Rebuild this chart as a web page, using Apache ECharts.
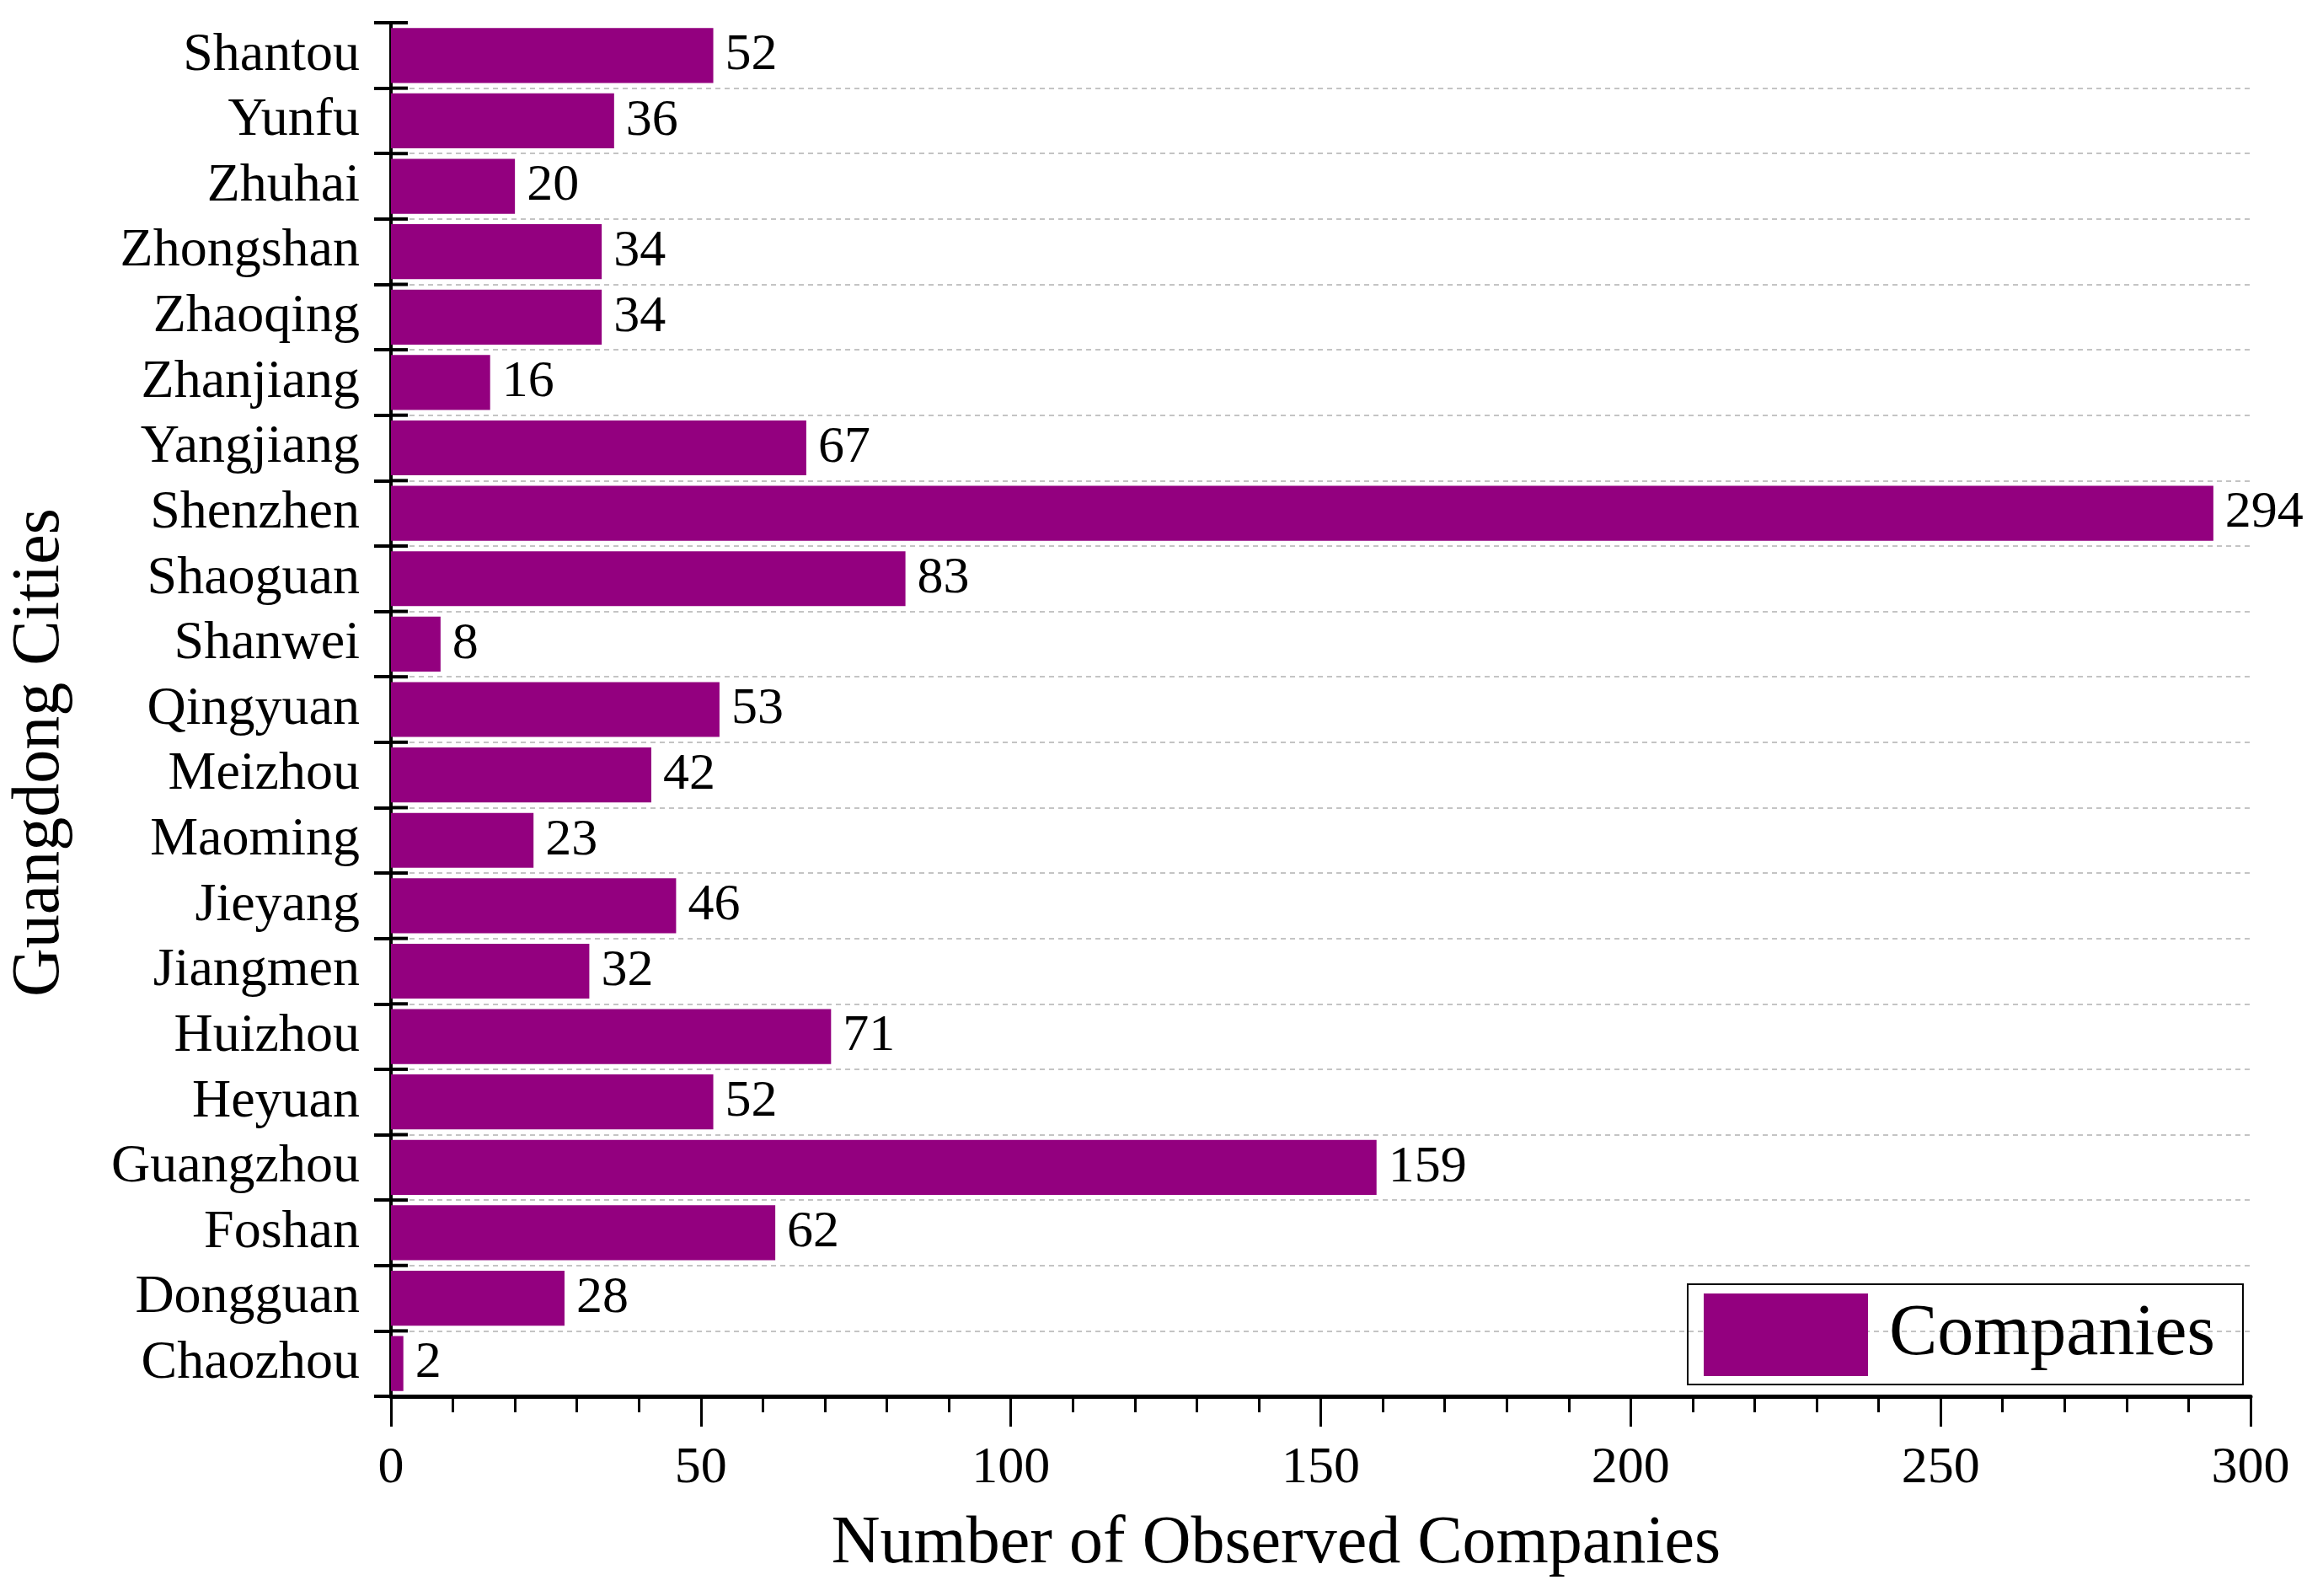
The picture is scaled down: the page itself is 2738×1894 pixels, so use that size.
<!DOCTYPE html>
<html>
<head>
<meta charset="utf-8">
<script src="https://cdn.jsdelivr.net/npm/echarts@6/dist/echarts.min.js"></script>
<style>
html,body{margin:0;padding:0;background:#fff;}
#chart{width:2738px;height:1894px;}
</style>
</head>
<body>
<div id="chart"></div>
<script>
const cities = ['Chaozhou','Dongguan','Foshan','Guangzhou','Heyuan','Huizhou','Jiangmen','Jieyang','Maoming','Meizhou','Qingyuan','Shanwei','Shaoguan','Shenzhen','Yangjiang','Zhanjiang','Zhaoqing','Zhongshan','Zhuhai','Yunfu','Shantou'];
const companies = [2,28,62,159,52,71,32,46,23,42,53,8,83,294,67,16,34,34,20,36,52];
const seriesName = 'Companies';
const xAxisTitle = 'Number of Observed Companies';
const yAxisTitle = 'Guangdong Cities';

const FONT = 'Liberation Serif';
const tickLen = 20;
const chart = echarts.init(document.getElementById('chart'), null, {renderer:'canvas'});
chart.setOption({
  animation:false,
  backgroundColor:'#ffffff',
  textStyle:{fontFamily:FONT, color:'#000'},
  grid:{left:463, right:67, top:27, bottom:237, containLabel:false},
  legend:{
    show:true,
    data:[seriesName],
    left:2003, top:1524,
    icon:'rect',
    itemWidth:195, itemHeight:98,
    borderColor:'#000', borderWidth:2,
    padding:[11,33,10,19],
    textStyle:{fontFamily:FONT, fontSize:86, color:'#000', padding:[0,0,0,20]}
  },
  xAxis:{
    type:'value', min:0, max:300, interval:50,
    name:xAxisTitle, nameLocation:'middle', nameGap:136,
    nameTextStyle:{fontFamily:FONT, fontSize:80, color:'#000', padding:[0,106,0,0]},
    axisLine:{show:true, lineStyle:{color:'#000', width:5}},
    axisTick:{show:true, inside:false, length:36, lineStyle:{color:'#000', width:3}},
    minorTick:{show:true, splitNumber:5, length:19, lineStyle:{color:'#000', width:3}},
    axisLabel:{fontFamily:FONT, fontSize:62, color:'#000', margin:55},
    splitLine:{show:false}
  },
  yAxis:{
    type:'category', data:cities, position:'left',
    name:yAxisTitle, nameLocation:'middle', nameGap:376, nameRotate:90,
    nameTextStyle:{fontFamily:FONT, fontSize:80, color:'#000', padding:[0,102,0,0]},
    axisLine:{show:true, lineStyle:{color:'#000', width:4}},
    axisTick:{show:true, inside:false, interval:0, length:tickLen, lineStyle:{color:'#000', width:4}},
    axisLabel:{fontFamily:FONT, fontSize:64, color:'#000', margin:37, interval:0},
    splitLine:{show:true, interval:0, showMinLine:false, showMaxLine:false, lineStyle:{color:'#c4c4c4', width:2, type:[6,5]}}
  },
  series:[{
    name:seriesName, type:'bar',
    data:companies,
    barCategoryGap:'16%',
    itemStyle:{color:'#93007F'},
    label:{show:true, position:'right', distance:14, fontFamily:FONT, fontSize:62, color:'#000'},
    z:3
  },{
    name:'_innerTicks', type:'custom', silent:true, z:5,
    data:cities.map((c,i)=>[0,i]),
    encode:{x:0, y:1},
    renderItem:function(params, api){
      const p = api.coord([api.value(0), api.value(1)]);
      const h = api.size([0,1])[1];
      const style = {stroke:'#000', lineWidth:4};
      const children = [{type:'line', shape:{x1:p[0], y1:p[1]+h/2, x2:p[0]+tickLen, y2:p[1]+h/2}, style:style}];
      if (params.dataIndex === cities.length - 1) {
        children.push({type:'line', shape:{x1:p[0], y1:p[1]-h/2, x2:p[0]+tickLen, y2:p[1]-h/2}, style:style});
      }
      return {type:'group', children:children};
    }
  }]
});
</script>
</body>
</html>
